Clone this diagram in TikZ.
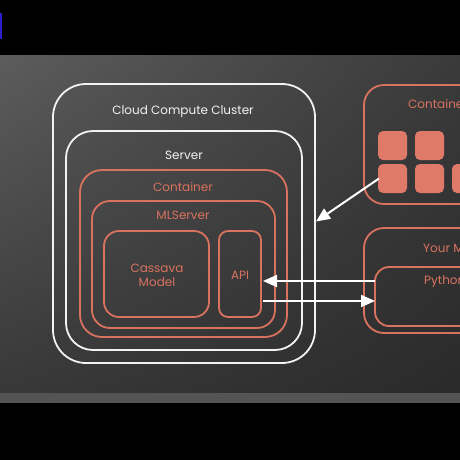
\documentclass[tikz,border=0pt]{standalone}
\usepackage{fontspec}
\setmainfont{Poppins}
\usetikzlibrary{arrows.meta,calc,shadings}
\definecolor{salmon}{HTML}{D9735F}
\definecolor{sqfill}{HTML}{DF7A68}
\definecolor{wline}{HTML}{F2F2F2}
\definecolor{bgtl}{HTML}{5C5C5C}
\definecolor{bgtr}{HTML}{3A3A3A}
\definecolor{bgbl}{HTML}{383838}
\definecolor{bgbr}{HTML}{2A2A2A}
\definecolor{stripe}{HTML}{545454}
\definecolor{bluebar}{HTML}{2A1FC8}
\begin{document}
\begin{tikzpicture}[x=1pt,y=-1pt,
  wbox/.style={draw=wline, line width=1.8pt, inner sep=0pt, outer sep=0pt, anchor=north west},
  sbox/.style={draw=salmon, line width=1.8pt, inner sep=0pt, outer sep=0pt, anchor=north west},
  sq/.style={fill=sqfill, rounded corners=5pt, inner sep=0pt, outer sep=0pt, minimum size=29pt, anchor=north west},
  wlabel/.style={text=wline, font=\fontsize{12}{14}\selectfont, inner sep=0pt},
  slabel/.style={text=salmon, font=\fontsize{12}{14}\selectfont, inner sep=0pt, align=center},
  arr/.style={draw=white, line width=2pt, -{Triangle[length=14pt,width=12pt]}}]
\useasboundingbox (0,0) rectangle (460,460);
\clip (0,0) rectangle (460,460);
% background
\fill[black] (0,0) rectangle (460,460);
\shade[upper left=bgtl, upper right=bgtr, lower left=bgbl, lower right=bgbr] (0,56) rectangle (460,393);
\fill[stripe] (0,393) rectangle (460,403);
\fill[bluebar] (0,13) rectangle (1.5,39);
% left nested boxes
\node[wbox, rounded corners=33pt, minimum width=262pt, minimum height=279pt] (cluster) at (53,84) {};
\node[wbox, rounded corners=27pt, minimum width=236pt, minimum height=219pt] (server) at (66,131) {};
\node[sbox, rounded corners=22pt, minimum width=207pt, minimum height=167pt] (container) at (80,170) {};
\node[sbox, rounded corners=18pt, minimum width=183pt, minimum height=127pt] (mlserver) at (92,201) {};
\node[sbox, rounded corners=15pt, minimum width=105pt, minimum height=86pt] (cassava) at (104,231) {};
\node[sbox, rounded corners=9pt, minimum width=42pt, minimum height=86pt] (api) at (219,231) {};
\node[wlabel] (lcluster) at (183,112) {Cloud Compute Cluster};
\node[wlabel] (lserver) at (184,155) {Server};
\node[slabel] (lcontainer) at (183,187) {Container};
\node[slabel] (lmlserver) at (183,215) {MLServer};
\node[slabel] (lcassava) at (157,275) {Cassava\\Model};
\node[slabel] (lapi) at (240,275) {API};
% right boxes
\node[sbox, rounded corners=20pt, minimum width=130pt, minimum height=119pt] (rcontainer) at (364,85) {};
\node[sbox, rounded corners=20pt, minimum width=130pt, minimum height=105pt] (yourm) at (364,228) {};
\node[sbox, rounded corners=14pt, minimum width=120pt, minimum height=59pt] (python) at (375,267) {};
\node[slabel, anchor=west] (lrcontainer) at (408,104) {Container};
\node[slabel, anchor=west] (lyourm) at (423,248) {Your M};
\node[slabel, anchor=west] (lpython) at (424,282) {Python};
% squares
\node[sq] (sq1) at (378,131) {};
\node[sq] (sq2) at (415,131) {};
\node[sq] (sq4) at (378,164) {};
\node[sq] (sq5) at (415,164) {};
\node[sq] (sq6) at (452,164) {};
% arrows
\coordinate (c1) at ($(cluster.east)+(1,-2)$);
\draw[arr] ($(sq4.west)+(1,0)$) -- (c1);
\coordinate (p1) at ($(python.north west)+(0,14)$);
\coordinate (p2) at ($(python.north west)+(0,34)$);
\draw[arr] (p1) -- ($(api.east |- p1)+(2,0)$);
\draw[arr] ($(api.east |- p2)+(2,0)$) -- (p2);
\end{tikzpicture}
\end{document}
